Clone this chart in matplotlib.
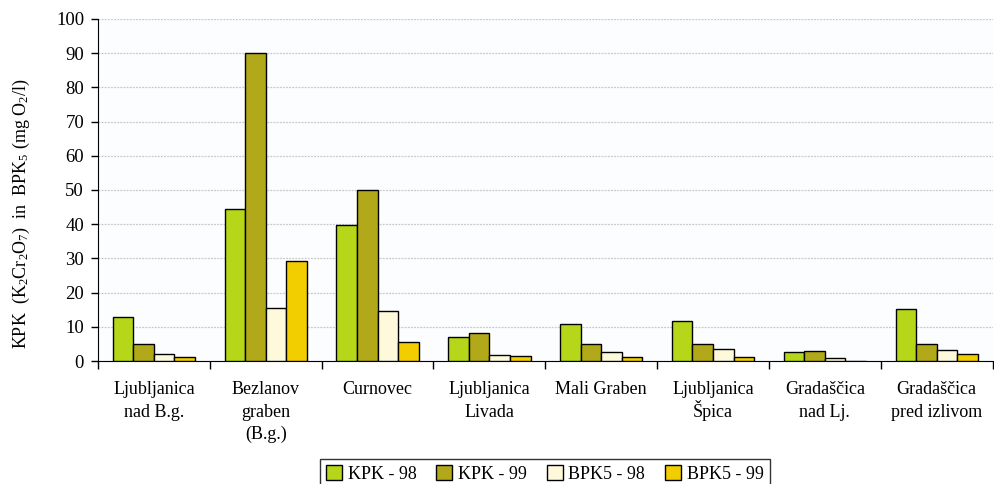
import matplotlib
matplotlib.use("Agg")
import matplotlib.pyplot as plt
import numpy as np
from matplotlib.ticker import FixedLocator, NullFormatter

plt.rcParams['font.family'] = ['Liberation Serif', 'DejaVu Serif']
plt.rcParams['mathtext.default'] = 'regular'

categories = ["Ljubljanica\nnad B.g.", "Bezlanov\ngraben\n(B.g.)", "Curnovec",
              "Ljubljanica\nLivada", "Mali Graben", "Ljubljanica\nŠpica",
              "Gradaščica\nnad Lj.", "Gradaščica\npred izlivom"]
series_names = ["KPK - 98", "KPK - 99", "BPK5 - 98", "BPK5 - 99"]
kpk98 = [12.9, 44.5, 39.7, 7.0, 10.7, 11.7, 2.7, 15.1]
kpk99 = [4.9, 90.0, 50.0, 8.1, 4.9, 4.9, 2.9, 4.9]
bpk98 = [2.2, 15.4, 14.6, 1.9, 2.7, 3.4, 1.0, 3.1]
bpk99 = [1.2, 29.3, 5.5, 1.6, 1.2, 1.2, 0.0, 2.2]
colors = ["#B5D619", "#B1A81A", "#FFF9DC", "#F2CE00"]

fig = plt.figure(figsize=(9.94, 4.84), dpi=100)
ax = fig.add_axes([0.0986, 0.254, 0.9, 0.707])
ax.set_facecolor("#FCFDFF")

x = np.arange(len(categories))
w = 0.184
for i, (vals, c, name) in enumerate(zip([kpk98, kpk99, bpk98, bpk99], colors, series_names)):
    ax.bar(x + (i - 1.5) * w, vals, width=w, color=c, edgecolor="black",
           linewidth=1.0, label=name, zorder=3)

ax.set_xlim(-0.5, len(categories) - 0.5)
ax.set_ylim(0, 100)
ax.set_yticks(np.arange(0, 101, 10))
ax.yaxis.grid(True, linestyle=(0, (1.5, 1)), color="#C8C8C8", linewidth=0.9, zorder=0)
ax.set_xticks(x)
ax.set_xticklabels([])
ax.tick_params(axis='x', length=0)
ax.xaxis.set_minor_locator(FixedLocator(np.arange(-0.5, len(categories), 1.0)))
ax.xaxis.set_minor_formatter(NullFormatter())
ax.tick_params(axis='x', which='minor', length=6, width=1, direction='out')
ax.tick_params(axis='y', labelsize=13.5, length=5, width=1, direction='out', pad=5)
for s in ['top', 'right']:
    ax.spines[s].set_visible(False)
ax.spines['left'].set_color('black')
ax.spines['bottom'].set_color('black')

# category labels, line by line (fixed baseline spacing)
px = 0.72  # points per pixel at 100 dpi
for xi, lab in zip(x, categories):
    for j, line in enumerate(lab.split("\n")):
        ax.annotate(line, xy=(xi, 0), xycoords=('data', 'axes fraction'),
                    xytext=(0, -(33 + 22.5 * j) * px), textcoords='offset points',
                    ha='center', va='baseline', fontsize=13)

ax.set_ylabel(r"KPK  (K$_2$Cr$_2$O$_7$)  in  BPK$_5$ (mg O$_2$/l)", fontsize=13)
ax.yaxis.set_label_coords(-0.074, 0.43)

leg = fig.legend(loc='lower center', bbox_to_anchor=(0.548, -0.03), ncol=4,
                 fontsize=13, frameon=True, fancybox=False, edgecolor='black',
                 handlelength=0.9, handleheight=0.9, handletextpad=0.3,
                 columnspacing=1.1, borderpad=0.35)
leg.get_frame().set_linewidth(1.0)

fig.savefig("out.png", dpi=100)
